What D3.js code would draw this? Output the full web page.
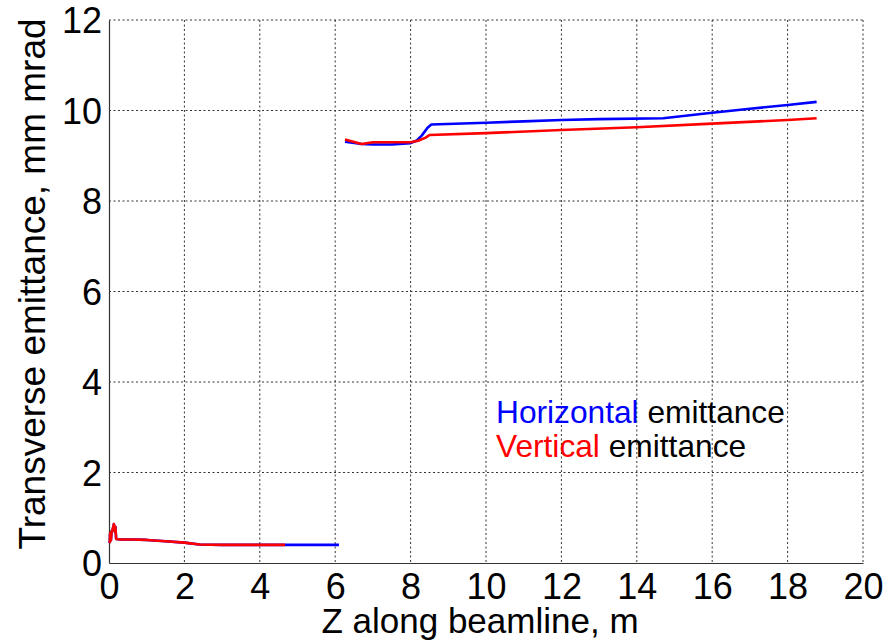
<!DOCTYPE html>
<html>
<head>
<meta charset="utf-8">
<script src="https://cdn.jsdelivr.net/npm/d3@7"></script>
<style>
  html, body { margin: 0; padding: 0; background: #fff; }
  svg { display: block; font-family: "Liberation Sans", Arial, sans-serif; }
</style>
</head>
<body>
<svg id="chart" width="893" height="641"></svg>
<script>
// Emittance along the beamline: two separate beamline sections
const xTicks = [0, 2, 4, 6, 8, 10, 12, 14, 16, 18, 20];
const yTicks = [0, 2, 4, 6, 8, 10, 12];

// Horizontal emittance, first section (z in m, emittance in mm mrad)
const horizLowZ = [0.02, 0.03, 0.05, 0.07, 0.10, 0.13, 0.15, 0.17, 0.19, 0.3, 0.6, 1.0, 1.5, 2.0, 2.4, 3.0, 4.0, 5.0, 6.1];
const horizLowE = [0.44, 0.66, 0.50, 0.70, 0.75, 0.86, 0.70, 0.80, 0.53, 0.52, 0.52, 0.51, 0.48, 0.45, 0.41, 0.40, 0.40, 0.40, 0.40];
// Vertical emittance, first section
const vertLowZ = [0.02, 0.03, 0.05, 0.07, 0.10, 0.13, 0.15, 0.17, 0.19, 0.3, 0.6, 1.0, 1.5, 2.0, 2.4, 3.0, 4.0, 4.67];
const vertLowE = [0.44, 0.66, 0.50, 0.70, 0.75, 0.86, 0.70, 0.80, 0.53, 0.52, 0.52, 0.51, 0.48, 0.45, 0.41, 0.40, 0.40, 0.40];

// Horizontal emittance, second section
const horizHighZ = [6.26, 6.7, 7.0, 7.5, 8.0, 8.15, 8.3, 8.45, 8.55, 10, 11, 12, 13, 14.7, 16, 17, 18, 18.77];
const horizHighE = [9.31, 9.26, 9.25, 9.25, 9.28, 9.33, 9.45, 9.62, 9.69, 9.73, 9.76, 9.79, 9.81, 9.83, 9.95, 10.04, 10.12, 10.19];
// Vertical emittance, second section
const vertHighZ = [6.26, 6.7, 7.0, 8.0, 8.2, 8.4, 8.5, 10, 12, 14, 16, 18, 18.77];
const vertHighE = [9.36, 9.26, 9.30, 9.30, 9.33, 9.40, 9.46, 9.50, 9.57, 9.63, 9.71, 9.79, 9.83];

const svg = d3.select("#chart");
const plot = { left: 109, right: 863, top: 20, bottom: 563 };

const x = d3.scaleLinear().domain([0, 20]).range([plot.left, plot.right]);
const y = d3.scaleLinear().domain([0, 12]).range([plot.bottom, plot.top]);

// dashed grid
const grid = svg.append("g");
grid.selectAll("line.vx").data(xTicks.filter(d => d > 0)).join("line")
  .attr("x1", d => x(d)).attr("x2", d => x(d))
  .attr("y1", plot.top).attr("y2", plot.bottom)
  .attr("stroke", "#333").attr("stroke-width", 1).attr("stroke-dasharray", "2,2.5");
grid.selectAll("line.hy").data(yTicks.filter(d => d > 0)).join("line")
  .attr("x1", plot.left).attr("x2", plot.right)
  .attr("y1", d => y(d)).attr("y2", d => y(d))
  .attr("stroke", "#333").attr("stroke-width", 1).attr("stroke-dasharray", "2,2.5");

// axes
const xAxis = svg.append("g").attr("transform", `translate(0,${plot.bottom})`)
  .call(d3.axisBottom(x).tickValues(xTicks).tickSize(0).tickPadding(12).tickFormat(d3.format("d")));
const yAxis = svg.append("g").attr("transform", `translate(${plot.left},0)`)
  .call(d3.axisLeft(y).tickValues(yTicks).tickSize(0).tickPadding(7).tickFormat(d3.format("d")));
[xAxis, yAxis].forEach(a => {
  a.select(".domain").attr("stroke", "#333").attr("stroke-width", 1.2);
  a.selectAll("text").attr("fill", "#000").style("font-size", "36px")
    .style("font-family", "'Liberation Sans', Arial, sans-serif");
});
xAxis.selectAll("text").attr("dy", "0.71em").attr("y", 10);
yAxis.selectAll("text").attr("dy", "0.36em");

// emittance curves
const line = d3.line().x(d => x(d[0])).y(d => y(d[1]));
const series = [
  { z: horizLowZ, e: horizLowE, color: "#0000ff" },
  { z: horizHighZ, e: horizHighE, color: "#0000ff" },
  { z: vertLowZ, e: vertLowE, color: "#ff0000" },
  { z: vertHighZ, e: vertHighE, color: "#ff0000" }
];
series.forEach(s => {
  svg.append("path")
    .datum(d3.zip(s.z, s.e))
    .attr("d", line)
    .attr("fill", "none")
    .attr("stroke", s.color)
    .attr("stroke-width", 2.6)
    .attr("stroke-linejoin", "round");
});

// axis titles
svg.append("text")
  .attr("x", 480).attr("y", 633)
  .attr("text-anchor", "middle")
  .style("font-size", "35px")
  .text("Z along beamline, m");
svg.append("text")
  .attr("transform", "translate(45,284) rotate(-90)")
  .attr("text-anchor", "middle")
  .style("font-size", "37px")
  .text("Transverse emittance, mm mrad");

// legend
const legend = svg.append("g").style("font-size", "31.7px");
const l1 = legend.append("text").attr("x", 496).attr("y", 423);
l1.append("tspan").attr("fill", "#0000ff").text("Horizontal");
l1.append("tspan").attr("fill", "#000").text(" emittance");
const l2 = legend.append("text").attr("x", 496).attr("y", 457);
l2.append("tspan").attr("fill", "#ff0000").text("Vertical");
l2.append("tspan").attr("fill", "#000").text(" emittance");
</script>
</body>
</html>
